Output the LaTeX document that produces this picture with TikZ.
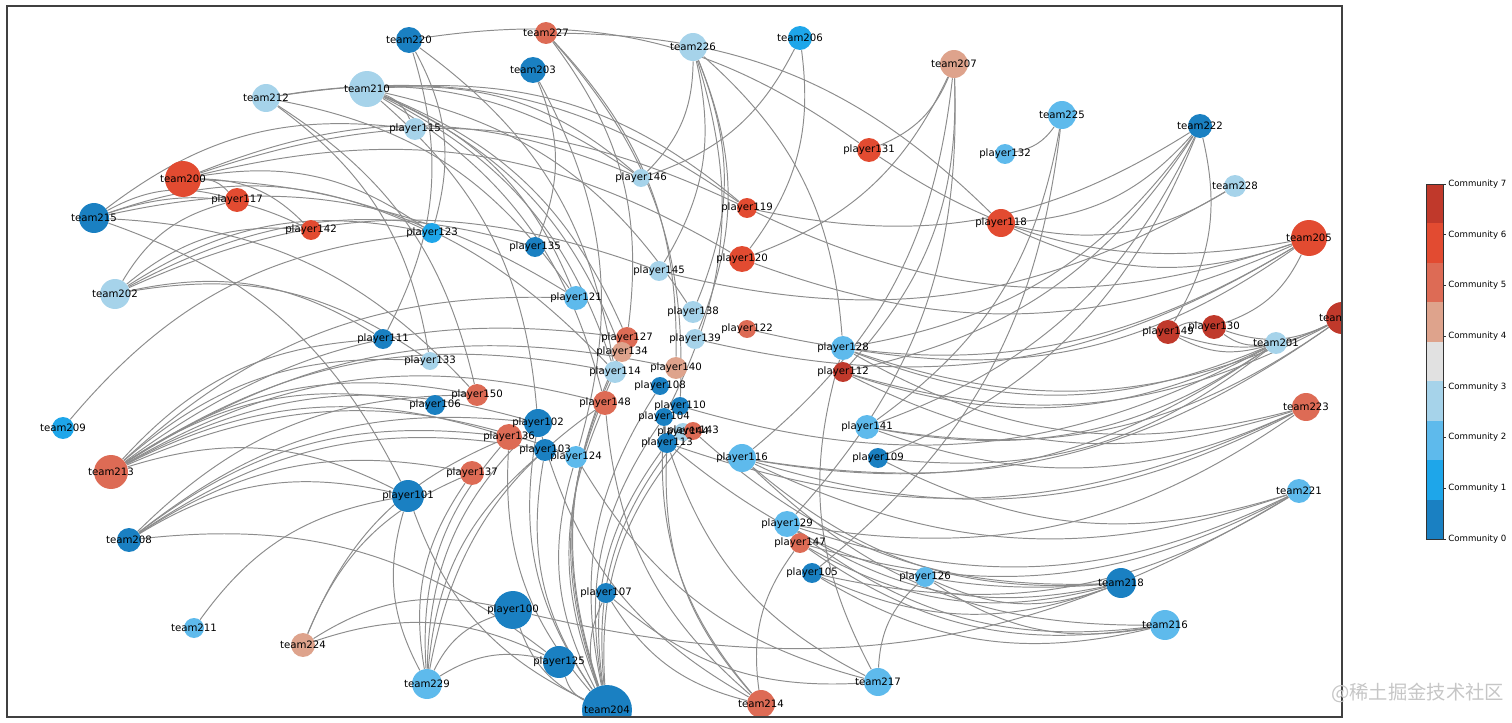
\documentclass[tikz,border=0pt]{standalone}
\usepackage{fontspec}
\setmainfont{DejaVu Sans}
\newfontfamily\cjkfont{Noto Sans CJK SC}
\usepackage{tikz}
\pgfdeclarelayer{background}
\pgfsetlayers{background,main}

\definecolor{comm0}{RGB}{26,128,194}
\definecolor{comm1}{RGB}{30,166,234}
\definecolor{comm2}{RGB}{94,186,236}
\definecolor{comm3}{RGB}{166,211,234}
\definecolor{commg}{RGB}{225,225,225}
\definecolor{comm4}{RGB}{222,163,140}
\definecolor{comm5}{RGB}{221,107,85}
\definecolor{comm6}{RGB}{226,75,49}
\definecolor{comm7}{RGB}{192,57,43}

% players and teams: name/x/y/radius/colour (pixels)
\def\playerlist{player100/513/610/19/comm0, player101/408/496/16/comm0, player102/538/423/14/comm0,
 player103/545/450/11/comm0, player104/664/417/9/comm0, player105/812/573/10/comm0,
 player106/435/405/10/comm0, player107/606/593/10/comm0, player108/660/386/9/comm0,
 player109/878/458/10/comm0, player110/680/406/9/comm0, player111/383/339/10/comm0,
 player112/843/372/10/comm7, player113/667/443/10/comm0, player114/615/372/11/comm3,
 player115/415/129/11/comm3, player116/742/458/14/comm2, player117/237/200/12/comm6,
 player118/1001/223/14/comm6, player119/747/208/10/comm6, player120/742/259/13/comm6,
 player121/576/298/12/comm2, player122/747/329/9/comm5, player123/432/233/10/comm1,
 player124/576/457/11/comm2, player125/559/662/16/comm0, player126/925/577/10/comm2,
 player127/627/338/11/comm5, player128/843/348/12/comm2, player129/787/524/13/comm2,
 player130/1214/327/12/comm7, player131/869/150/12/comm6, player132/1005/154/10/comm2,
 player133/430/361/9/comm3, player134/622/352/10/comm4, player135/535/247/10/comm0,
 player136/509/437/13/comm5, player137/472/473/12/comm5, player138/693/312/11/comm3,
 player139/695/339/10/comm3, player140/676/368/11/comm4, player141/867/427/12/comm2,
 player142/311/230/10/comm6, player144/683/432/9/comm3, player143/693/431/9/comm5,
 player145/659/271/10/comm3, player146/641/178/9/comm3, player147/800/543/10/comm5,
 player148/605/403/12/comm5, player149/1168/332/12/comm7, player150/477/395/11/comm5}
\def\teamlist{team200/183/179/18/comm6, team201/1276/343/11/comm3, team202/115/294/15/comm3,
 team203/533/70/13/comm0, team204/607/710/25/comm0, team205/1309/238/18/comm6,
 team206/800/38/12/comm1, team207/954/64/14/comm4, team208/129/540/12/comm0,
 team209/63/428/11/comm1, team210/367/89/18/comm3, team211/194/628/10/comm2,
 team212/266/98/14/comm3, team213/111/472/17/comm5, team214/761/704/14/comm5,
 team215/94/218/15/comm0, team216/1165/625/15/comm2, team217/878/682/14/comm2,
 team218/1121/583/15/comm0, team219/1342/318/16/comm7, team220/409/40/13/comm0,
 team221/1299/491/12/comm2, team222/1200/126/12/comm0, team223/1306/407/14/comm5,
 team224/303/645/12/comm4, team225/1062/115/14/comm2, team226/693/47/14/comm3,
 team227/546/33/11/comm5, team228/1235/186/11/comm3, team229/427/684/15/comm2}

\begin{document}
\begin{tikzpicture}[
    % style def
    x=0.02cm, y=-0.02cm,
    vtx/.style={circle, fill=#1, draw=none, inner sep=0pt},
    lbl/.style={inner sep=0pt, text=black, font=\fontsize{5.8}{6}\selectfont},
    link/.style={draw=gray!90, line width=0.55pt},
    cbtext/.style={anchor=west, inner sep=0pt, font=\fontsize{4.9}{5}\selectfont}
    ]
    \useasboundingbox (0,0) rectangle (1512,723);

    % nodes, clipped by the axes
    \begin{scope}
    \clip (7,6) rectangle (1342,717);
    \foreach \nm/\px/\py/\rad/\col in \playerlist
        \node[vtx=\col, minimum size=\rad*0.04cm] (\nm) at (\px,\py) {};
    \foreach \nm/\px/\py/\rad/\col in \teamlist
        \node[vtx=\col, minimum size=\rad*0.04cm] (\nm) at (\px,\py) {};
    % labels on top
    \foreach \nm/\px/\py/\rad/\col in \playerlist
        \node[lbl] (\nm-txt) at (\nm) {\nm};
    \foreach \nm/\px/\py/\rad/\col in \teamlist
        \node[lbl] (\nm-txt) at (\nm) {\nm};
    \end{scope}

    % team -- player links
    \begin{pgfonlayer}{background}
    \foreach \tm/\plist in {
        team200/{player117,player142,player119,player146,player120,player123,player114},
        team201/{player149,player130,player128,player112,player116,player141,player109,player110},
        team202/{player142,player117,player123,player135,player145,player111,player133},
        team203/{player135,player124},
        team204/{player100,player125,player102,player103,player124,player136,player148,player114,player108,player104,player113,player107,player127,player144,player134,player143,player101},
        team205/{player118,player131,player119,player120,player130,player128,player122,player139},
        team206/{player146,player120},
        team207/{player131,player120,player112,player116,player129},
        team208/{player101,player137,player136,player102,player103,player150,player125},
        team209/{player123},
        team210/{player115,player119,player146,player121,player114,player127,player148,player102,player138,player134},
        team211/{player101},
        team212/{player119,player146,player121,player133,player150},
        team213/{player111,player133,player150,player106,player148,player114,player127,player121,player136,player102,player124,player101,player140},
        team214/{player147,player102,player113,player104,player148,player107},
        team215/{player115,player117,player142,player123,player121,player150,player101},
        team216/{player126,player105,player147,player116,player129},
        team217/{player126,player128,player113,player124,player107},
        team218/{player116,player129,player147,player105,player126,player113,player143},
        team219/{player130,player149,player128,player112,player141,player116},
        team220/{player131,player123,player111,player114},
        team221/{player116,player129,player147,player105,player100,player109},
        team222/{player119,player118,player128,player112,player141,player109,player149},
        team223/{player128,player112,player116,player141,player113,player129},
        team224/{player100,player137,player136,player125},
        team225/{player132,player141,player105},
        team226/{player146,player145,player138,player139,player104,player128},
        team227/{player127,player140,player110,player118},
        team228/{player118,player145},
        team229/{player100,player102,player103,player136,player137,player148,player101,player125}}
        \foreach \pl in \plist
            \draw[link] (\tm) to[bend left=22] (\pl);
    \draw[link] (player149) to[bend left=22] (player130);
    \end{pgfonlayer}

    % axes frame
    \draw[black!75, line width=0.6pt] (7,6) rectangle (1342,717);

    % colour bar
    \foreach \k/\col in {0/comm0,1/comm1,2/comm2,3/comm3,4/commg,5/comm4,6/comm5,7/comm6,8/comm7}
        \fill[\col] (1426,{539-\k*39.444}) rectangle (1443,{539-(\k+1)*39.444});
    \draw[black!80, line width=0.4pt] (1426,184) rectangle (1443,539);
    \foreach \k in {0,...,7} {
        \draw[black!80, line width=0.4pt] (1443,{539-\k*50.714}) -- ++(3,0);
        \node[cbtext] (cb\k) at (1448,{539-\k*50.714}) {Community \k};
    }

    % watermark
    \node[anchor=west, inner sep=0pt, text=gray!45, font=\cjkfont\fontsize{11}{12}\selectfont] (mark) at (1331,693) {@稀土掘金技术社区};
\end{tikzpicture}
\end{document}
